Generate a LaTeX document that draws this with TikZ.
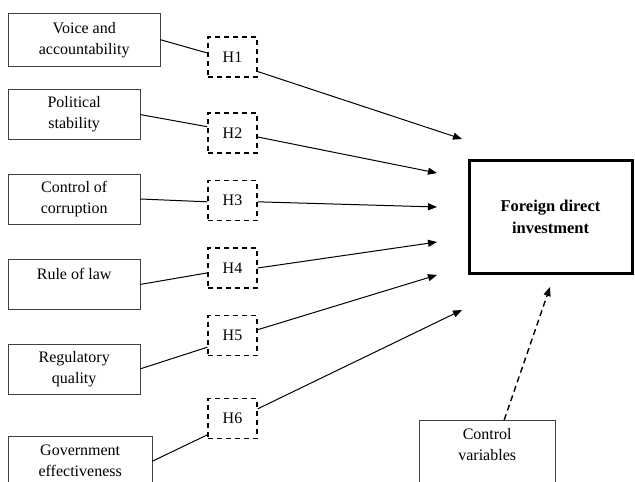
\documentclass[tikz,border=0pt]{standalone}
\usepackage{fontspec}
\setmainfont{Liberation Serif}
\usetikzlibrary{arrows.meta,positioning}
\tikzset{
  factorblock/.style={draw=black!75, align=center, minimum width=132pt, minimum height=50pt, inner sep=2pt, font=\fontsize{16}{21}\selectfont},
  hypblock/.style={draw, dash pattern=on 5pt off 4pt, line width=1.4pt, minimum width=49pt, minimum height=40pt, font=\fontsize{16}{21}\selectfont},
  outcomeblock/.style={draw, line width=3pt, align=center, minimum width=163pt, minimum height=113pt, font=\bfseries\fontsize{16.5}{22}\selectfont},
  link/.style={line width=1pt},
  arrow/.style={-{Triangle[length=9pt,width=7pt]}, line width=1pt},
  dasharrow/.style={-{Triangle[length=9pt,width=7pt]}, line width=1.4pt, dash pattern=on 6pt off 4pt}
}
\begin{document}
\begin{tikzpicture}[x=1pt, y=-1pt]
    \useasboundingbox (0,0) rectangle (635,482);
    \clip (0,0) rectangle (635,482);

    \node[factorblock, anchor=north west, minimum width=152pt, minimum height=53pt] (voice) at (8,13) {Voice and\\accountability};
    \node[factorblock, below=23pt of voice.south west, anchor=north west] (polstab) {Political\\stability};
    \node[factorblock, below=34pt of polstab.south west, anchor=north west] (corrupt) {Control of\\corruption};
    \node[factorblock, below=35pt of corrupt.south west, anchor=north west] (law) {Rule of law\\~};
    \node[factorblock, below=34pt of law.south west, anchor=north west] (regqual) {Regulatory\\quality};
    \node[factorblock, below=42pt of regqual.south west, anchor=north west, minimum width=144pt] (goveff) {Government\\effectiveness};

    \node[hypblock] (h1) at (232.5,57) {H1};
    \node[hypblock] (h2) at (232.5,133) {H2};
    \node[hypblock] (h3) at (232.5,200.5) {H3};
    \node[hypblock] (h4) at (232.5,268) {H4};
    \node[hypblock] (h5) at (232.5,335.5) {H5};
    \node[hypblock] (h6) at (232.5,418.5) {H6};

    \node[outcomeblock] (fdi) at (550.5,216.5) {Foreign direct\\investment};
    \node[factorblock, anchor=north west, minimum width=136pt, inner ysep=8pt] (ctrl) at (419,420) {Control\\variables\\~};

    \coordinate (tip1) at (462,139);
    \coordinate (tip2) at (437,173);
    \coordinate (tip3) at (437,207);
    \coordinate (tip4) at (437,242);
    \coordinate (tip5) at (437,275);
    \coordinate (tip6) at (462,310);
    \coordinate (tipc) at (550,287);

    \draw[link] (voice.east) -- (h1.171);
    \draw[link] (polstab.east) -- (h2.166);
    \draw[link] (corrupt.east) -- (h3.183);
    \draw[link] (law.east) -- (h4.191);
    \draw[link] (regqual.east) -- (h5.205);
    \draw[link] (goveff.east) -- (h6.213);

    \draw[arrow] (h1.330) -- (tip1);
    \draw[arrow] (h2.351) -- (tip2);
    \draw[arrow] (h3.357) -- (tip3);
    \draw[arrow] (h4.east) -- (tip4);
    \draw[arrow] (h5.13) -- (tip5);
    \draw[arrow] (h6.21) -- (tip6);
    \draw[dasharrow] ([xshift=17pt]ctrl.north) -- (tipc);
  \end{tikzpicture}
\end{document}
